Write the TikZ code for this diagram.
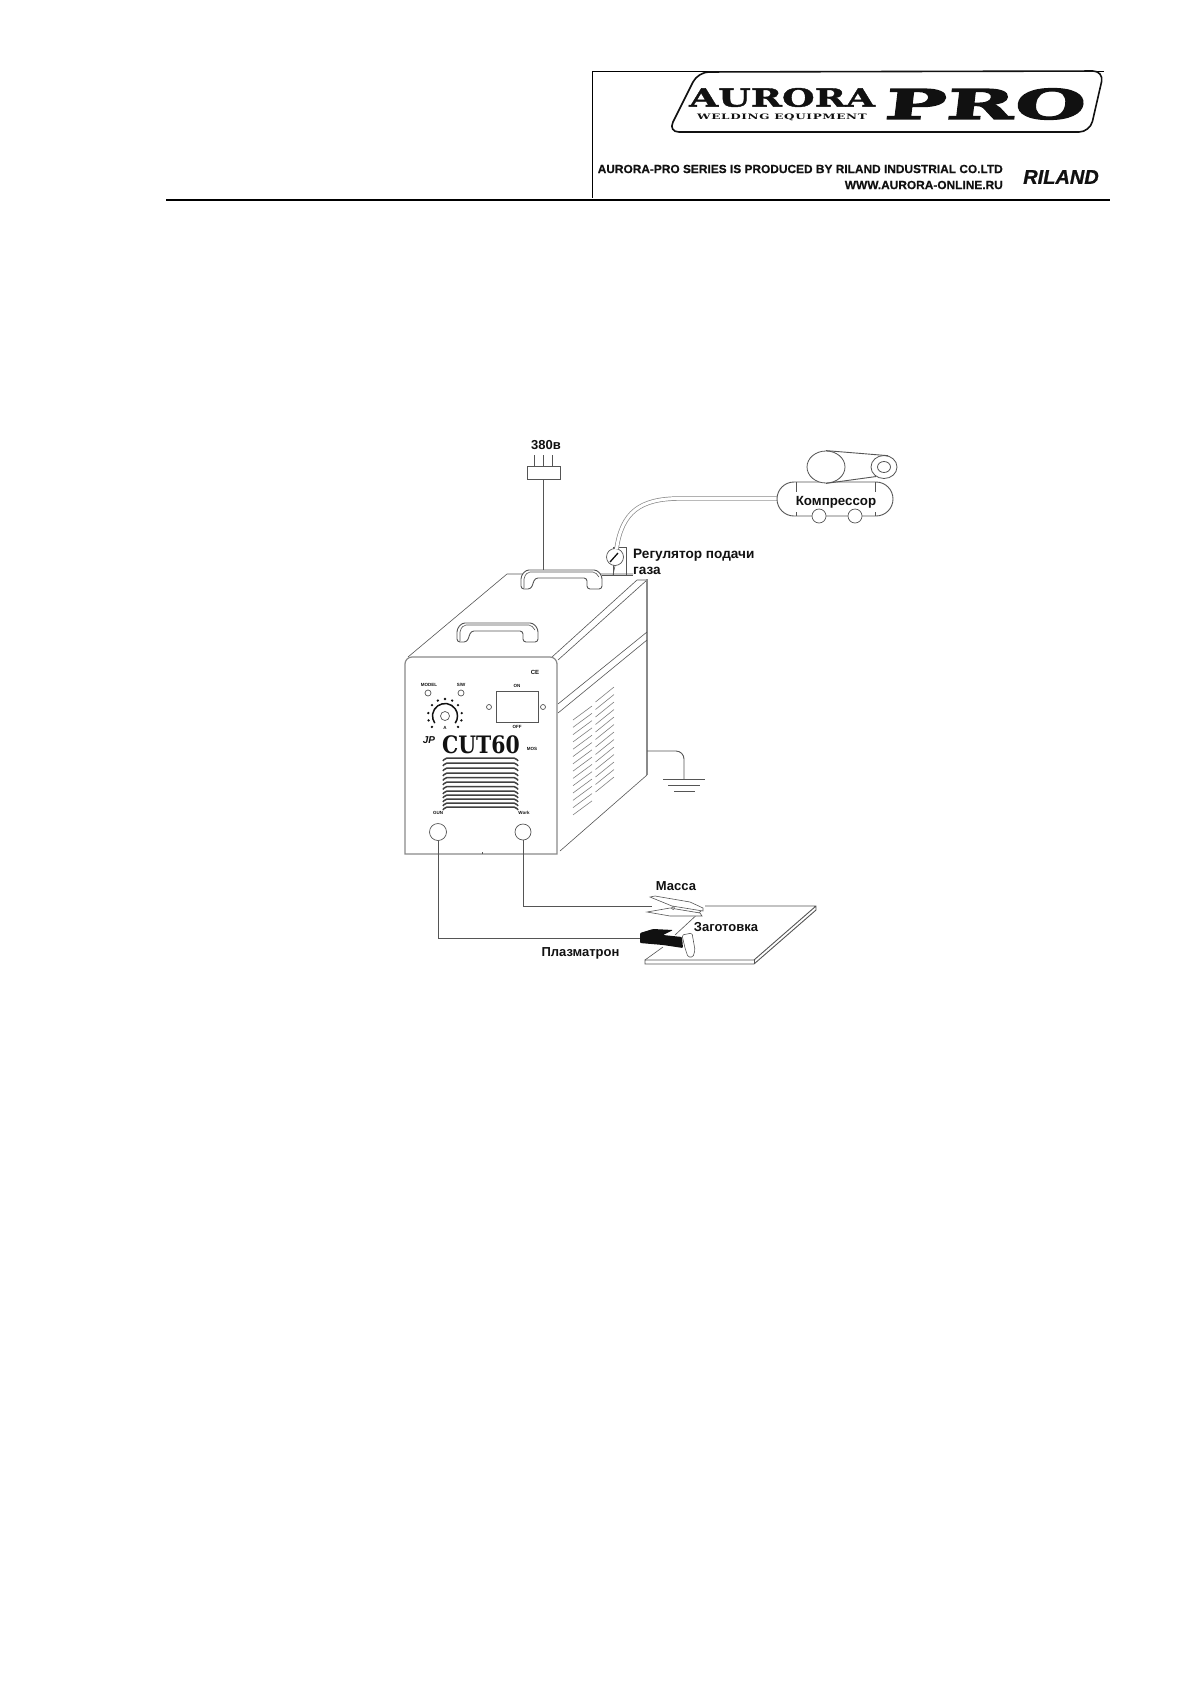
\documentclass[tikz,border=0pt]{standalone}
\usepackage{xcolor}
\usepackage{fontspec}
\setmainfont{Liberation Sans}
\newfontfamily\slabfont{DejaVu Serif}
\definecolor{inkblack}{HTML}{111111}
\definecolor{linegray}{HTML}{555555}
\definecolor{edgegray}{HTML}{8A8A8A}
\usetikzlibrary{arrows.meta,positioning,calc,shapes.geometric}
\tikzset{
  lab/.style={inner sep=0pt, font=\fontsize{13}{15}\selectfont\bfseries, text=inkblack, anchor=center},
  tinylab/.style={inner sep=0pt, font=\fontsize{4.5}{5}\selectfont\bfseries, text=inkblack},
  headlab/.style={inner sep=0pt, anchor=east, font=\fontsize{11.9}{13}\selectfont\bfseries, text=inkblack},
  wireline/.style={draw=linegray, line width=0.9pt},
  thinline/.style={draw=linegray, line width=0.6pt},
  edgeline/.style={draw=edgegray, line width=1.2pt},
  knob/.style={circle, draw=linegray, line width=0.7pt, fill=white, inner sep=0pt},
  oval/.style={ellipse, draw=linegray, line width=0.8pt, fill=white, inner sep=0pt},
}
\begin{document}
\begin{tikzpicture}[x=1pt,y=-1pt]
  \useasboundingbox[fill=white] (0,0) rectangle (1191,1684);
  % header
  \draw[line width=1pt] (592,71) -- (1104,71);
  \draw[line width=1pt] (592,71) -- (592,198);
  \draw[line width=2pt] (166,199.5) -- (1110,199.5);
  \draw[line width=1.6pt, rounded corners=11pt, draw=inkblack] (698,72) -- (1104,71) -- (1090,132) -- (668,132) -- cycle;
  \node[inner sep=0pt, font=\fontsize{25}{26}\selectfont\slabfont\bfseries, text=inkblack] (logoa) at (782,97.5) {\addfontfeature{FakeStretch=1.5,FakeBold=1.5}AURORA};
  \node[inner sep=0pt, font=\fontsize{7.5}{8}\selectfont\slabfont\bfseries, text=inkblack] (logow) at (782,117) {\addfontfeature{FakeStretch=1.6,LetterSpace=9}WELDING EQUIPMENT};
  \node[inner sep=0pt, font=\fontsize{41}{42}\selectfont\slabfont\bfseries, text=inkblack] (logop) at (984,104) {\addfontfeature{FakeStretch=2,FakeSlant=0.12,FakeBold=3}PRO};
  \node[headlab] (slogan) at (1003,169) {\addfontfeature{FakeBold=0.4}AURORA-PRO SERIES IS PRODUCED BY RILAND INDUSTRIAL CO.LTD};
  \node[headlab] (site) at (1003,185) {\addfontfeature{FakeBold=0.4}WWW.AURORA-ONLINE.RU};
  \node[inner sep=0pt, font=\fontsize{20}{21}\selectfont\bfseries\itshape, text=inkblack] (riland) at (1061,177) {\addfontfeature{FakeBold=1}RILAND};
  % machine
  \draw[thinline] (408,657) -- (507,574) -- (633,574);
  \draw[thinline] (552,657) -- (637,580) -- (647,580);
  \draw[thinline] (558,660) -- (647,580);
  \draw[edgeline] (647,579) -- (647,775);
  \draw[thinline] (560,851) -- (647,775);
  \draw[thinline] (558,704) -- (647,632);
  \draw[thinline] (558,713) -- (647,640);
  \draw[edgeline] (405,854) [rounded corners=7pt] -- (405,657) -- (557,657) -- (557,670) [sharp corners] -- (557,854) -- cycle;
  \draw[thinline] (482,852) -- (482,854);
  % handles
  \foreach \hx/\hy in {0/0,-64/53}{
    \begin{scope}[xshift=\hx, yshift=-\hy]
      \draw[wireline, fill=white, rounded corners=3pt]
        (521,589) -- (521,576) -- (526,570) -- (597,570) -- (602,576) -- (602,589) -- (587,589) -- (587,578) -- (535,578) -- (531,589) -- cycle;
      \draw[thinline, rounded corners=2pt] (524,588) -- (524,577) -- (528,572) -- (595,572) -- (599,577);
    \end{scope}
  }
  % panel
  \node[tinylab] (model) at (429,685) {MODEL};
  \node[tinylab] (sw) at (461,685) {S/W};
  \node[knob, minimum size=6pt] (ledl) at (428,693) {};
  \node[knob, minimum size=6pt] (ledr) at (461,693) {};
  \node[knob, minimum size=9pt] (dial) at (445,716) {};
  \draw[line width=1.5pt, draw=inkblack] (dial) ++(-215:12.5) arc (-215:35:12.5);
  \foreach \ang in {-220,-195,-170,-140,-115,-90,-65,-40,-10,15,40}
    \fill[inkblack] (dial) ++(\ang:17) circle (1.3);
  \node[tinylab] (amp) at (445,728) {A};
  \node[draw=linegray, line width=1pt, minimum width=42pt, minimum height=31pt, inner sep=0pt] (meter) at (517,706.5) {};
  \node[tinylab] (on) at (517,686) {ON};
  \node[tinylab] (off) at (517,727) {OFF};
  \node[knob, minimum size=5pt] (ml) at (489,707) {};
  \node[knob, minimum size=5pt] (mr) at (543,707) {};
  \node[inner sep=0pt, font=\fontsize{6}{7}\selectfont\bfseries, text=inkblack] (ce) at (535,672) {CE};
  \node[inner sep=0pt, font=\fontsize{10}{11}\selectfont\itshape\bfseries, text=inkblack] (brand) at (429,740) {JP};
  \node[inner sep=0pt, font=\fontsize{24}{25}\selectfont\slabfont\bfseries, text=inkblack] (cut) at (481,745) {\addfontfeature{FakeStretch=0.85}CUT60};
  \node[tinylab] (series) at (532,749) {MOS};
  \foreach \ys in {758,763,768,773,777.5,782,786.5,791,795,799,803,807}
    \draw[draw=inkblack!80, line width=1.5pt, rounded corners=2pt] (443,\ys+3) -- (445,\ys) -- (516,\ys) -- (518,\ys+3);
  \node[tinylab] (gunlab) at (438,813) {GUN};
  \node[tinylab] (worklab) at (524,813) {Work};
  \node[knob, minimum size=17pt] (outl) at (438,832) {};
  \node[knob, minimum size=16pt] (outr) at (523,832) {};
  % vents
  \foreach \i in {0,...,13}
    \draw[thinline, gray] (573,720+\i*7.3) -- (592,706+\i*7.3);
  \foreach \i in {0,...,12}
    \draw[thinline, gray] (595.5,702+\i*7.5) -- (614,687+\i*7.5);
  % ground
  \coordinate (gnd0) at (647,751);
  \coordinate (gnd1) at (684,779);
  \draw[wireline, rounded corners=8pt] (gnd0) -- (684,751) -- (gnd1);
  \draw[thinline] (663,779) -- (705,779);
  \draw[thinline] (668,785) -- (700,785);
  \draw[thinline] (674,791) -- (695,791);
  % mains plug
  \node[lab] (volt) at (546,445) {380в};
  \node[draw=linegray, line width=0.9pt, minimum width=33pt, minimum height=12.5pt, inner sep=0pt] (plug) at (543.5,473) {};
  \draw[thinline] (534,455) -- (plug.north -| 534,0);
  \draw[thinline] (543.5,455) -- (plug.north);
  \draw[thinline] (552,455) -- (plug.north -| 552,0);
  \draw[wireline] (plug.south) -- (543.5,570);
  % regulator
  \node[thinline, draw, minimum width=13pt, minimum height=28pt, inner sep=0pt] (regbox) at (619.5,561) {};
  \node[knob, minimum size=17pt] (gauge) at (615,557) {};
  \draw[line width=1.3pt, draw=inkblack] (610,562) -- (618,553);
  \draw[thinline] (gauge.south) -- (613,575);
  \draw[thinline] (602,575) -- (633,575);
  \node[font=\fontsize{13.6}{15}\selectfont\bfseries, inner sep=0pt, text=inkblack, anchor=west] (reglab) at (633,555.5) {Регулятор подачи};
  \node[font=\fontsize{13.6}{15}\selectfont\bfseries, inner sep=0pt, text=inkblack, anchor=west] (gaslab) at (633,570.5) {газа};
  % hose
  \coordinate (comp) at (778,498.5);
  \coordinate (hose0) at (616.5,549);
  \draw[line width=4.4pt, draw=linegray!70] (hose0) .. controls (622,512) and (640,498.5) .. (680,498.5) -- (comp);
  \draw[line width=3pt, draw=white] (hose0) .. controls (622,512) and (640,498.5) .. (680,498.5) -- (comp);
  % compressor
  \node[draw=linegray, line width=0.9pt, rounded corners=17pt, fill=white, minimum width=116pt, minimum height=34pt, inner sep=0pt] (tank) at (835,499) {};
  \draw[thinline] (796,482) -- (796,492);
  \draw[thinline] (875,482) -- (875,492);
  \draw[thinline] (796,512) -- (796,516);
  \draw[thinline] (875,512) -- (875,516);
  \node[knob, minimum size=14pt] (wheell) at (819,516) {};
  \node[knob, minimum size=14pt] (wheelr) at (855,516) {};
  \node[font=\fontsize{13.3}{15}\selectfont\bfseries, inner sep=0pt, text=inkblack] (complab) at (836,502) {Компрессор};
  \node[oval, minimum width=38pt, minimum height=32pt] (motor) at (826,467) {};
  \node[oval, minimum width=26pt, minimum height=23pt] (pulley) at (884,467) {};
  \node[oval, minimum width=13pt, minimum height=11pt] (pin) at (884,467) {};
  \draw[wireline] (motor.north) -- (pulley.70);
  \draw[wireline] (motor.south) -- (pulley.-130);
  % workpiece
  \coordinate (wa) at (705,906);
  \coordinate (wb) at (816,906);
  \coordinate (wc) at (754,960);
  \coordinate (wd) at (645,960);
  \draw[wireline] (wa) -- (wb) -- (816,910) -- (754,964) -- (645,964) -- (wd) -- (wc) -- (wb);
  \draw[thinline] (wc) -- (754,964);
  \draw[thinline] (702,910) -- (675,935);
  \draw[thinline] (663,947) -- (wd);
  % cables
  \coordinate (clampend) at (652,906);
  \coordinate (torchend) at (640,938);
  \draw[wireline] (outr.south) -- (523,906) -- (clampend);
  \draw[wireline] (outl.south) -- (438,938) -- (torchend);
  % clamp
  \draw[thinline, fill=white] (650,897) -- (655,896) -- (690,902) -- (703,908) -- (703,911) -- (672,906) -- cycle;
  \draw[thinline, fill=white] (647,912) -- (670,908) -- (700,913) -- (702,916) -- (670,916) -- cycle;
  \node[knob, minimum size=3pt] (clamppin) at (673,908) {};
  % torch
  \fill[inkblack, rounded corners=1pt] (640,933) -- (653,929) -- (673,930) -- (663,935) -- (682,937) -- (683,948) -- (663,945) -- (640,943) -- cycle;
  \draw[thinline, fill=white, rounded corners=1.5pt] (682,935) -- (692,933) -- (695,950) -- (693,957) -- (688,957) -- (685,948) -- cycle;
  % labels below
  \node[lab] (mass) at (676,886.5) {Масса};
  \node[lab] (blank) at (726,927) {Заготовка};
  \node[lab] (torch) at (580.5,953) {Плазматрон};
\end{tikzpicture}
\end{document}
